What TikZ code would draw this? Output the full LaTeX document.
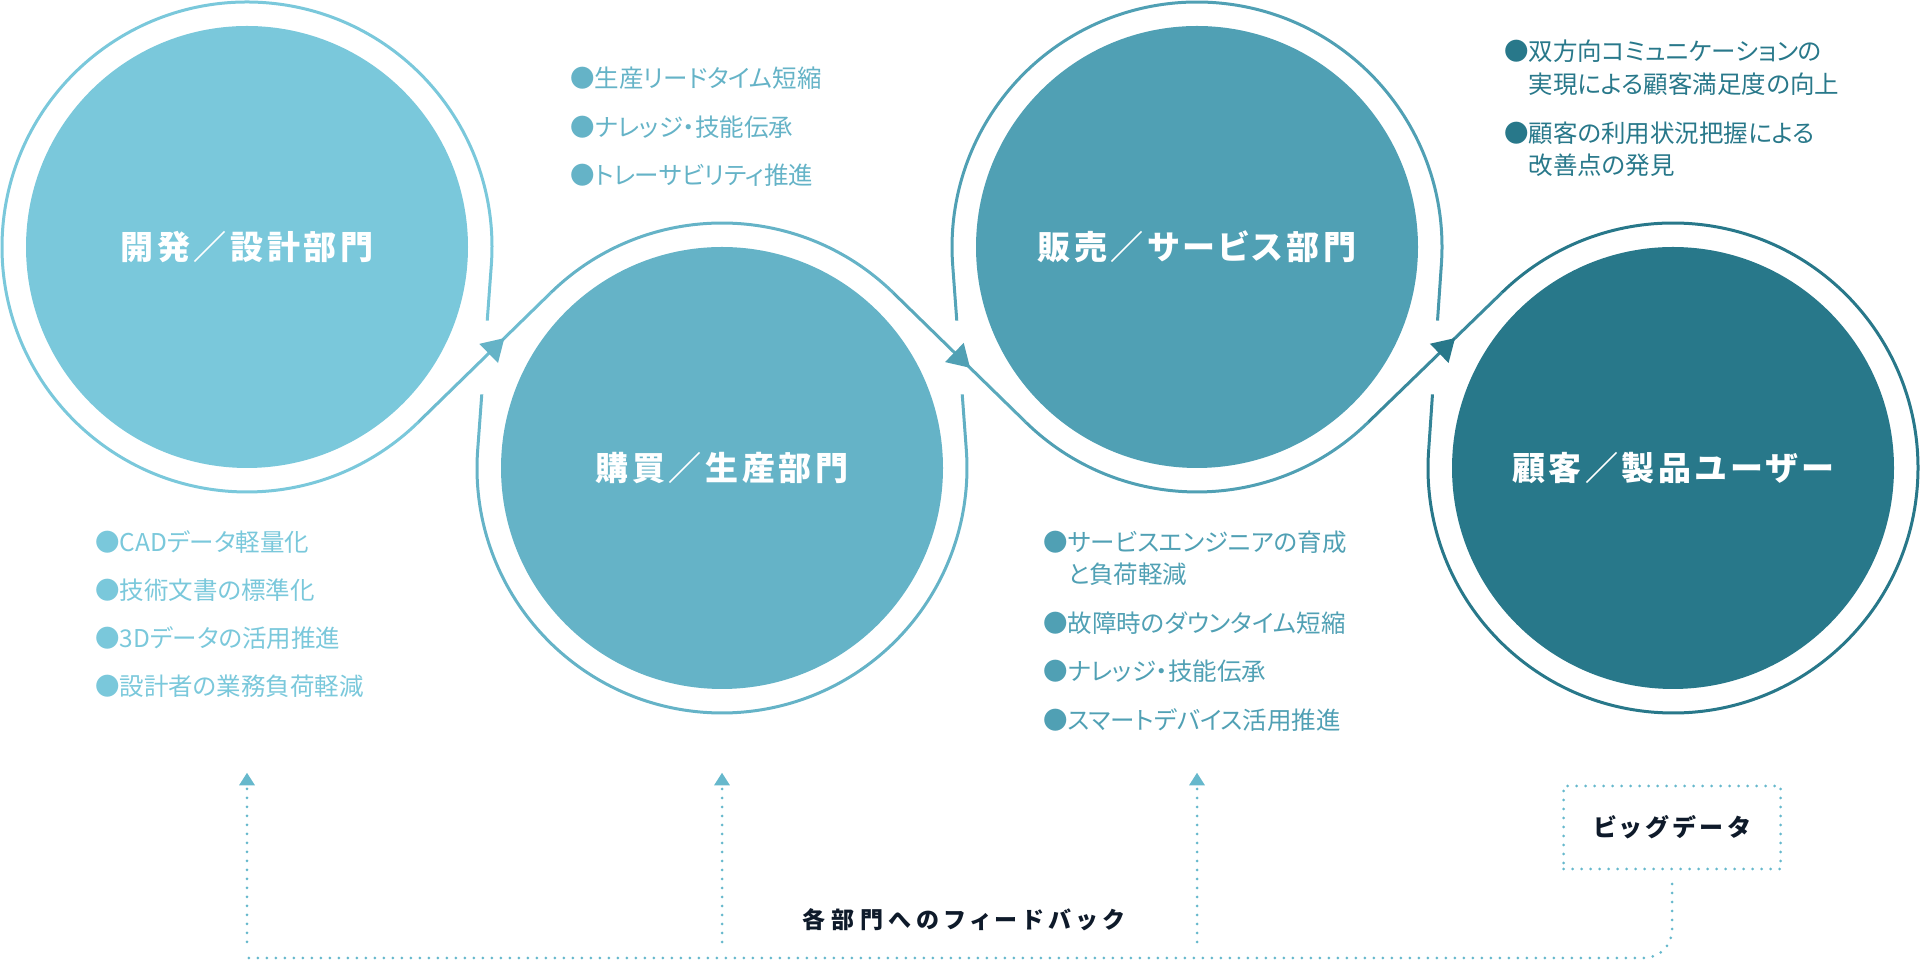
\documentclass[tikz,border=0pt]{standalone}
\usepackage{fontspec}
\usepackage{tikz}
\usetikzlibrary{calc,arrows.meta,decorations.markings}

\newfontfamily\jplist[RawFeature=+palt]{Noto Sans CJK JP}
\newfontfamily\jptitle[RawFeature=+palt,LetterSpace=11]{Noto Sans CJK JP}
\newfontfamily\jpbus[RawFeature=+palt,LetterSpace=25]{Noto Sans CJK JP}
\newfontfamily\jpbox[RawFeature=+palt,LetterSpace=19]{Noto Sans CJK JP}

\definecolor{devblue}{HTML}{7AC8DB}
\definecolor{buyblue}{HTML}{65B3C7}
\definecolor{saleblue}{HTML}{50A0B4}
\definecolor{userblue}{HTML}{28788A}
\definecolor{ink}{HTML}{0E1A2A}
\definecolor{dotblue}{HTML}{66B8CC}

\tikzset{
  hub/.style={circle, inner sep=0pt, minimum size=442pt, text=white,
    font=\jptitle\bfseries\fontsize{33}{40}\selectfont},
  ring/.style={line width=3pt},
  note/.style={anchor=west, inner sep=0pt, align=left,
    font=\jplist\fontsize{24.5}{32.5}\selectfont},
  dots/.style={dotblue, line width=3pt, line cap=round, dash pattern=on 0pt off 9pt},
  crossarrow/.style 2 args={postaction={decorate}, decoration={markings,
    mark=at position #2 with {\arrow{Triangle[length=22pt,width=26pt,color=#1]}}}},
  databox/.style={draw=dotblue, line width=3pt, line cap=round,
    dash pattern=on 0pt off 9pt, minimum width=217pt, minimum height=83pt,
    inner sep=0pt, outer sep=0pt, text=ink,
    font=\jpbox\bfseries\fontsize{24}{30}\selectfont}
}

\newcommand*{\OverLink}[7]{% #1/#2 = hubs, #3/#4 = angles, #5 = line colour, #6 = tip colour, #7 = tip position
\draw[ring, #5, crossarrow={#6}{#7}] ($(#1.center)+(#3:245)$) -- ($(#2.center)+(#4:245)$);
}
\newcommand*{\UnderLink}[6]{% #1/#2 = hubs, #3/#4 = angles, #5/#6 = colours near #1/#2
\coordinate (#1-#2-mid) at ($(#1.center)!0.5!(#2.center)$);
\coordinate (#1-#2-a) at ($(#1.center)+(#3:245)$);
\coordinate (#1-#2-b) at ($(#2.center)+(#4:245)$);
\draw[ring, #5] (#1-#2-a) -- ($(#1-#2-mid)!37pt!(#1-#2-a)$);
\draw[ring, #6] ($(#1-#2-mid)!37pt!(#1-#2-b)$) -- (#1-#2-b);
}

\begin{document}
\begin{tikzpicture}[x=1pt, y=1pt]
\useasboundingbox (0,0) rectangle (1920,960);

% departments
\node[hub, fill=devblue] (dev) at (247,713) {開発／設計部門};
\node[hub, fill=buyblue] (buy) at (722,492) {購買／生産部門};
\node[hub, fill=saleblue] (sale) at (1197,713) {販売／サービス部門};
\node[hub, fill=userblue] (user) at (1673,492) {顧客／製品ユーザー};

% rings
\draw[ring, devblue] ($(dev.center)+(-4.23:245)$) arc[start angle=-4.23, end angle=314.33, radius=245];
\draw[ring, buyblue] ($(buy.center)+(45.67:245)$) arc[start angle=45.67, end angle=134.33, radius=245];
\draw[ring, buyblue] ($(buy.center)+(175.77:245)$) arc[start angle=175.77, end angle=364.23, radius=245];
\draw[ring, saleblue] ($(sale.center)+(-4.23:245)$) arc[start angle=-4.23, end angle=184.23, radius=245];
\draw[ring, saleblue] ($(sale.center)+(225.67:245)$) arc[start angle=225.67, end angle=314.33, radius=245];
\draw[ring, userblue] ($(user.center)+(175.77:245)$) arc[start angle=175.77, end angle=494.33, radius=245];

% crossings
\UnderLink{dev}{buy}{-4.23}{175.77}{devblue!80!buyblue}{buyblue!80!devblue}
\OverLink{dev}{buy}{-45.67}{134.33}{devblue!45!buyblue}{buyblue}{0.65}
\UnderLink{buy}{sale}{4.23}{184.23}{buyblue!80!saleblue}{saleblue!80!buyblue}
\OverLink{buy}{sale}{45.67}{225.67}{buyblue!45!saleblue}{saleblue}{0.58}
\UnderLink{sale}{user}{-4.23}{175.77}{saleblue!80!userblue}{userblue!70!saleblue}
\OverLink{sale}{user}{-45.67}{134.33}{saleblue!45!userblue}{userblue}{0.65}

% notes
\foreach \y/\txt [count=\i] in {418.3/{●CADデータ軽量化}, 370/{●技術文書の標準化},
    322/{●3Dデータの活用推進}, 273.3/{●設計者の業務負荷軽減}}
  \node[note, text=devblue] (devnote\i) at (95,\y) {\txt};
\foreach \y/\txt [count=\i] in {882/{●生産リードタイム短縮}, 833/{●ナレッジ・技能伝承},
    785/{●トレーサビリティ推進}}
  \node[note, text=buyblue] (buynote\i) at (570,\y) {\txt};
\foreach \y/\txt [count=\i] in {401.7/{●サービスエンジニアの育成\\\hphantom{●}と負荷軽減},
    337/{●故障時のダウンタイム短縮}, 288.3/{●ナレッジ・技能伝承}, 240/{●スマートデバイス活用推進}}
  \node[note, text=saleblue] (salenote\i) at (1043,\y) {\txt};
\foreach \y/\txt [count=\i] in {892.5/{●双方向コミュニケーションの\\\hphantom{●}実現による顧客満足度の向上},
    810.8/{●顧客の利用状況把握による\\\hphantom{●}改善点の発見}}
  \node[note, text=userblue] (usernote\i) at (1504,\y) {\txt};

% feedback
\node[databox] (bigdata) at (1672,132.5) {ビッグデータ};
\node[text=ink, font=\jpbus\bfseries\fontsize{23}{28}\selectfont] (fbnote) at (963,40) {各部門へのフィードバック};
\coordinate (busend) at (247,2);
\draw[dots, rounded corners=28pt] ($(bigdata.south)+(0,-15)$) |- (busend);
\foreach \hubname in {dev,buy,sale}
  \draw[dots, -{Triangle[length=12.6pt,width=15pt]}] (\hubname.center |- 0,18) -- (\hubname.center |- 0,187.3);

\end{tikzpicture}
\end{document}
